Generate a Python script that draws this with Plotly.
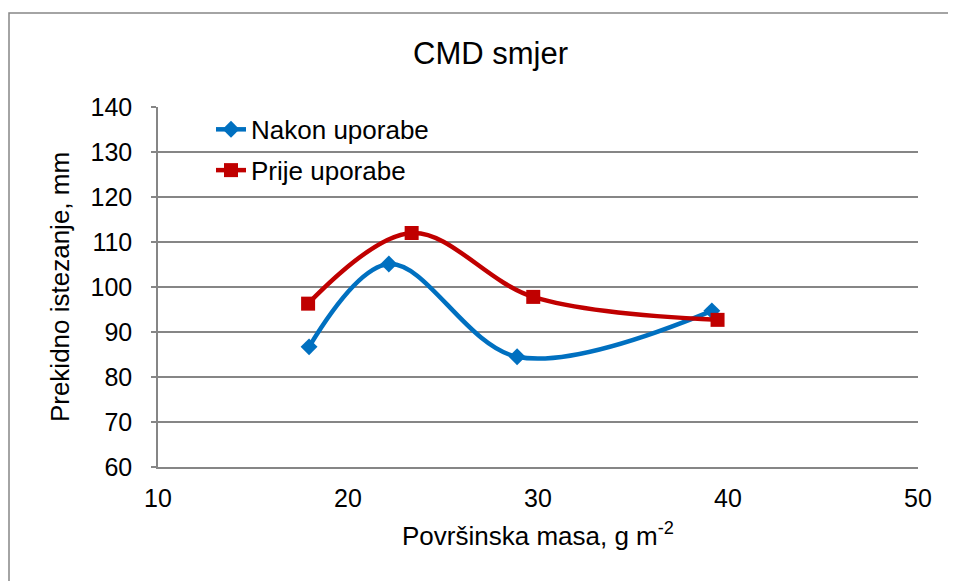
import plotly.graph_objects as go

nakon_x = [17.95, 22.15, 28.9, 39.15]
nakon_y = [86.7, 105.1, 84.5, 94.7]
prije_x = [17.9, 23.35, 29.75, 39.45]
prije_y = [96.3, 112.0, 97.8, 92.7]

series_names = ["Nakon uporabe", "Prije uporabe"]
x_ticks = [10, 20, 30, 40, 50]
y_ticks = [60, 70, 80, 90, 100, 110, 120, 130, 140]

FONT = "Liberation Sans, Arial, sans-serif"
GRID = "#868686"

# plot area in figure pixels (page has 8px body offset)
L, T, PW, PH = 150, 99, 760, 360

fig = go.Figure()
fig.add_trace(go.Scatter(
    x=nakon_x, y=nakon_y, name=series_names[0], mode="lines+markers",
    line=dict(color="#0070C0", width=4.5, shape="spline", smoothing=1),
    marker=dict(symbol="diamond", size=13, color="#0070C0"),
    legendgroup="a",
))
fig.add_trace(go.Scatter(
    x=prije_x, y=prije_y, name=series_names[1], mode="lines+markers",
    line=dict(color="#C00000", width=4.5, shape="spline", smoothing=1),
    marker=dict(symbol="square", size=14, color="#C00000"),
    legendgroup="b",
))

fig.update_layout(
    width=956, height=581,
    margin=dict(l=L, r=956 - L - PW, t=T, b=581 - T - PH),
    paper_bgcolor="white", plot_bgcolor="white",
    font=dict(family=FONT, size=25, color="black"),
    showlegend=True,
    legend=dict(x=(211 - 8 - L) / PW, y=1.003, xanchor="left", yanchor="top",
                bgcolor="rgba(0,0,0,0)", font=dict(size=26, family=FONT),
                traceorder="grouped", tracegroupgap=4, itemwidth=30),
    xaxis=dict(range=[10, 50], tickvals=x_ticks, ticks="", showgrid=False,
               showline=True, linecolor=GRID, linewidth=1.5, zeroline=False,
               tickfont=dict(size=25, family=FONT), ticklabelstandoff=8,
               title=dict(text="Površinska masa, g m<sup>-2</sup>", font=dict(size=26, family=FONT), standoff=16)),
    yaxis=dict(range=[60, 140], tickvals=y_ticks, ticks="outside", ticklen=5,
               tickcolor=GRID, tickwidth=1.5, showgrid=True, gridcolor=GRID, gridwidth=1.5,
               showline=True, linecolor=GRID, linewidth=1.5, zeroline=False,
               tickfont=dict(size=25, family=FONT), ticklabelstandoff=14,
               title=dict(text="Prekidno istezanje, mm", font=dict(size=26, family=FONT), standoff=13)),
    annotations=[dict(text="CMD smjer", xref="paper", yref="paper",
                      x=(490 - 8 - L) / PW, y=1 + (T - (53 - 8)) / PH,
                      xanchor="center", yanchor="middle", showarrow=False,
                      font=dict(size=31, family=FONT))],
    shapes=[dict(type="rect", xref="paper", yref="paper",
                 x0=(9 - 8 - L) / PW, x1=(990 - L) / PW,
                 y0=-(620 - T - PH) / PH, y1=1 + (T - (13 - 8)) / PH,
                 line=dict(color=GRID, width=1.5), fillcolor="rgba(0,0,0,0)", layer="below")],
)

fig.write_html("out.html")
